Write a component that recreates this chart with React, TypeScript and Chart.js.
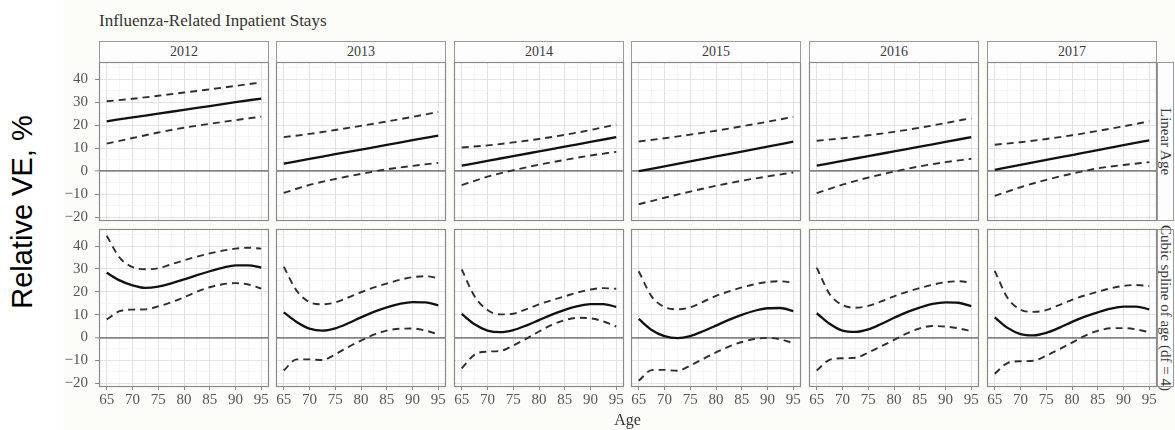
import React, { useEffect, useRef } from 'react';
import { Chart, registerables } from 'chart.js';

Chart.register(...registerables);

// ---------- text ----------
const TITLE = 'Influenza-Related Inpatient Stays';
const Y_LABEL = 'Relative VE, %';
const X_LABEL = 'Age';
const YEARS = ['2012', '2013', '2014', '2015', '2016', '2017'];
const MODELS = ['Linear Age', 'Cubic spline of age (df = 4)'];

// ---------- axes ----------
const AGES_LINEAR = [65, 70, 75, 80, 85, 90, 95];
const AGES_SPLINE = [65, 67.5, 70, 72.5, 75, 77.5, 80, 82.5, 85, 87.5, 90, 92.5, 95];
const X_GRID = [65, 67.5, 70, 72.5, 75, 77.5, 80, 82.5, 85, 87.5, 90, 92.5, 95];
const X_TICK_LABELS = [65, 70, 75, 80, 85, 90, 95];
const Y_GRID = [-20, -15, -10, -5, 0, 5, 10, 15, 20, 25, 30, 35, 40, 45];
const Y_TICK_LABELS = [-20, -10, 0, 10, 20, 30, 40];
const X_MIN = 63.5;
const X_MAX = 96.5;
const Y_MIN = -21.7;
const Y_MAX = 47.5;

// ---------- data: Linear Age (rows = 2012..2017, values at AGES_LINEAR) ----------
const LINEAR_EST = [
  [21.7, 23.4, 25.0, 26.7, 28.3, 30.0, 31.6],
  [3.3, 5.3, 7.4, 9.4, 11.4, 13.5, 15.5],
  [2.4, 4.5, 6.5, 8.6, 10.7, 12.7, 14.8],
  [0.0, 2.1, 4.3, 6.4, 8.5, 10.7, 12.8],
  [2.4, 4.5, 6.5, 8.6, 10.7, 12.7, 14.8],
  [0.6, 2.7, 4.9, 7.0, 9.1, 11.3, 13.4],
];
const LINEAR_HI = [
  [30.4, 31.5, 32.8, 34.2, 35.6, 37.1, 38.6],
  [14.8, 16.2, 17.9, 19.7, 21.6, 23.6, 25.8],
  [10.3, 11.2, 12.5, 14.0, 15.8, 17.9, 20.3],
  [12.9, 14.3, 15.9, 17.6, 19.5, 21.5, 23.6],
  [13.2, 14.3, 15.6, 17.1, 18.9, 20.9, 23.1],
  [11.5, 12.6, 14.0, 15.6, 17.5, 19.5, 21.7],
];
const LINEAR_LO = [
  [12.0, 14.4, 16.8, 18.9, 20.6, 22.2, 23.7],
  [-9.5, -6.0, -3.4, -1.2, 0.8, 2.3, 3.6],
  [-6.1, -2.4, 0.4, 2.8, 4.9, 6.8, 8.4],
  [-14.4, -11.6, -8.9, -6.4, -4.2, -2.3, -0.6],
  [-9.6, -5.9, -2.8, -0.2, 2.1, 3.9, 5.4],
  [-10.8, -7.0, -3.8, -1.1, 1.2, 2.7, 3.9],
];

// ---------- data: Cubic spline (rows = 2012..2017, values at AGES_SPLINE) ----------
const SPLINE_EST = [
  [28.3, 25.0, 22.8, 21.7, 22.3, 23.7, 25.4, 27.3, 29.0, 30.5, 31.6, 31.6, 30.6],
  [11.0, 6.8, 3.9, 3.0, 4.0, 6.2, 8.8, 11.2, 13.2, 14.7, 15.5, 15.4, 14.1],
  [10.3, 5.8, 3.0, 2.3, 3.2, 5.2, 7.6, 10.0, 12.1, 13.7, 14.6, 14.6, 13.4],
  [8.1, 3.3, 0.6, -0.3, 0.6, 2.7, 5.2, 7.7, 9.9, 11.7, 12.8, 12.9, 11.5],
  [10.6, 6.0, 3.0, 2.4, 3.5, 5.9, 8.6, 11.1, 13.1, 14.7, 15.4, 15.2, 13.7],
  [8.8, 4.2, 1.5, 0.9, 2.0, 4.2, 6.8, 9.1, 11.0, 12.6, 13.5, 13.5, 12.3],
];
const SPLINE_HI = [
  [44.5, 35.0, 30.8, 29.9, 30.3, 32.0, 33.8, 35.4, 36.8, 38.0, 38.9, 39.3, 38.9],
  [31.0, 20.5, 15.5, 14.5, 15.3, 17.5, 19.8, 21.9, 23.6, 25.2, 26.4, 26.8, 26.0],
  [29.8, 18.0, 12.0, 10.1, 10.4, 12.3, 14.5, 16.3, 18.0, 19.7, 21.0, 21.6, 21.3],
  [29.0, 18.0, 13.3, 12.3, 13.2, 15.6, 18.2, 20.2, 21.9, 23.3, 24.3, 24.6, 24.0],
  [30.6, 19.0, 14.2, 13.0, 13.8, 15.8, 18.0, 20.0, 21.6, 23.1, 24.2, 24.6, 24.0],
  [29.2, 17.3, 12.2, 11.2, 12.0, 14.2, 16.5, 18.4, 20.0, 21.5, 22.6, 23.0, 22.5],
];
const SPLINE_LO = [
  [7.9, 11.5, 12.2, 12.3, 13.6, 15.4, 17.6, 20.0, 22.0, 23.3, 23.8, 23.2, 21.4],
  [-14.5, -9.6, -9.6, -9.9, -7.4, -4.2, -1.4, 1.2, 3.0, 3.8, 3.9, 3.0, 1.4],
  [-13.5, -7.5, -6.2, -5.9, -3.5, -0.6, 2.6, 5.5, 7.6, 8.6, 8.4, 7.0, 4.8],
  [-19.0, -14.3, -14.2, -14.6, -12.3, -9.4, -6.5, -4.0, -2.0, -0.7, -0.2, -0.8, -2.5],
  [-14.5, -9.8, -9.1, -8.9, -6.6, -3.9, -1.1, 1.8, 4.0, 5.0, 4.8, 4.0, 2.8],
  [-15.9, -11.2, -10.4, -10.2, -8.0, -5.2, -2.3, 0.7, 2.9, 4.0, 4.1, 3.5, 2.3],
];

// ---------- layout ----------
const PANEL_LEFT = [99, 276, 454, 631, 809, 987];
const PANEL_W = 170;
const PANEL_TOP = [62, 229];
const PANEL_H = [159, 158];
const YAXIS_W = 50;
const XAXIS_H = 24;
const PAD = 8;

const SERIF = '"Liberation Serif", "DejaVu Serif", serif';
const BG = '#fcfcf8';

const toPoints = (xs: number[], ys: number[]) => xs.map((x, i) => ({ x, y: ys[i] }));
const fmt = (v: number) => (v < 0 ? '\u2212' + Math.abs(v) : String(v));

const panelPlugin = {
  id: 'panelBox',
  beforeDraw(chart: any) {
    const { ctx, chartArea: a } = chart;
    ctx.save();
    ctx.fillStyle = '#ffffff';
    ctx.fillRect(a.left, a.top, a.right - a.left, a.bottom - a.top);
    ctx.restore();
  },
  afterDraw(chart: any) {
    const { ctx, chartArea: a } = chart;
    ctx.save();
    ctx.strokeStyle = '#8a8a8a';
    ctx.lineWidth = 1.2;
    ctx.strokeRect(a.left + 0.5, a.top + 0.5, a.right - a.left - 1, a.bottom - a.top - 1);
    ctx.restore();
  },
};

const zeroPadding = (s: any) => {
  s.paddingTop = 0;
  s.paddingBottom = 0;
  s.paddingLeft = 0;
  s.paddingRight = 0;
};

function Panel({ row, col }: { row: number; col: number }) {
  const ref = useRef<HTMLCanvasElement>(null);
  const isLeft = col === 0;
  const isBottom = row === 1;
  const leftExtra = isLeft ? YAXIS_W : PAD;
  const bottomExtra = isBottom ? XAXIS_H : PAD;
  const width = PANEL_W + leftExtra + PAD;
  const height = PANEL_H[row] + PAD + bottomExtra;

  useEffect(() => {
    const ages = row === 0 ? AGES_LINEAR : AGES_SPLINE;
    const est = row === 0 ? LINEAR_EST[col] : SPLINE_EST[col];
    const hi = row === 0 ? LINEAR_HI[col] : SPLINE_HI[col];
    const lo = row === 0 ? LINEAR_LO[col] : SPLINE_LO[col];
    const dashed = {
      borderColor: '#2e2e2e',
      borderWidth: 1.9,
      borderDash: [7, 5],
      pointRadius: 0,
      fill: false,
      cubicInterpolationMode: 'monotone' as const,
    };
    const chart = new Chart(ref.current as HTMLCanvasElement, {
      type: 'line',
      data: {
        datasets: [
          { label: 'upper', data: toPoints(ages, hi), ...dashed },
          { label: 'lower', data: toPoints(ages, lo), ...dashed },
          {
            label: 'estimate',
            data: toPoints(ages, est),
            borderColor: '#111111',
            borderWidth: 2.3,
            pointRadius: 0,
            fill: false,
            cubicInterpolationMode: 'monotone' as const,
          },
        ],
      },
      options: {
        responsive: false,
        animation: false,
        devicePixelRatio: 1,
        events: [],
        layout: {
          padding: { left: isLeft ? 0 : PAD, right: PAD, top: PAD, bottom: isBottom ? 0 : PAD },
        },
        plugins: {
          legend: { display: false },
          tooltip: { enabled: false },
          title: { display: false },
        },
        scales: {
          x: {
            type: 'linear',
            min: X_MIN,
            max: X_MAX,
            afterBuildTicks: (s: any) => {
              s.ticks = X_GRID.map((v) => ({ value: v }));
            },
            afterFit: (s: any) => {
              s.height = isBottom ? XAXIS_H : 0;
              zeroPadding(s);
            },
            border: { display: false },
            grid: {
              drawTicks: isBottom,
              tickLength: 3,
              color: (c: any) => (X_TICK_LABELS.includes(c.tick?.value) ? '#e2e2e2' : '#f1f1f1'),
              lineWidth: (c: any) => (X_TICK_LABELS.includes(c.tick?.value) ? 1 : 0.7),
              tickColor: (c: any) => (X_TICK_LABELS.includes(c.tick?.value) ? '#8a8a8a' : 'rgba(0,0,0,0)'),
              tickWidth: 1,
            },
            ticks: {
              display: isBottom,
              autoSkip: false,
              maxRotation: 0,
              padding: 1,
              color: '#555555',
              font: { family: SERIF, size: 15 },
              callback: (v: any) => (X_TICK_LABELS.includes(Number(v)) ? String(v) : ''),
            },
          },
          y: {
            type: 'linear',
            min: Y_MIN,
            max: Y_MAX,
            afterBuildTicks: (s: any) => {
              s.ticks = Y_GRID.map((v) => ({ value: v }));
            },
            afterFit: (s: any) => {
              s.width = isLeft ? YAXIS_W : 0;
              zeroPadding(s);
            },
            border: { display: false },
            grid: {
              drawTicks: isLeft,
              tickLength: 4,
              color: (c: any) => {
                const v = c.tick?.value;
                if (v === 0) return '#858585';
                return Y_TICK_LABELS.includes(v) ? '#e2e2e2' : '#f1f1f1';
              },
              lineWidth: (c: any) => {
                const v = c.tick?.value;
                if (v === 0) return 1.7;
                return Y_TICK_LABELS.includes(v) ? 1 : 0.7;
              },
              tickColor: (c: any) => (Y_TICK_LABELS.includes(c.tick?.value) ? '#8a8a8a' : 'rgba(0,0,0,0)'),
              tickWidth: 1,
            },
            ticks: {
              display: isLeft,
              autoSkip: false,
              padding: 7,
              color: '#555555',
              font: { family: SERIF, size: 15 },
              callback: (v: any) => (Y_TICK_LABELS.includes(Number(v)) ? fmt(Number(v)) : ''),
            },
          },
        },
      },
      plugins: [panelPlugin],
    } as any);
    return () => chart.destroy();
  }, [row, col]);

  return (
    <canvas
      ref={ref}
      width={width}
      height={height}
      style={{
        position: 'absolute',
        left: PANEL_LEFT[col] - leftExtra,
        top: PANEL_TOP[row] - PAD,
        width,
        height,
      }}
    />
  );
}

export default function App() {
  const stripBorder = '1px solid #9a9a9a';
  return (
    <div
      style={{
        position: 'absolute',
        left: 0,
        top: 0,
        width: 1175,
        height: 430,
        overflow: 'hidden',
        background: '#ffffff',
      }}
    >
      <div style={{ position: 'absolute', left: 63, top: 0, width: 1112, height: 430, background: BG }} />
      <div
        style={{
          position: 'absolute',
          left: 99,
          top: 11,
          fontFamily: SERIF,
          fontSize: 17,
          color: '#333333',
          whiteSpace: 'nowrap',
          lineHeight: '20px',
        }}
      >
        {TITLE}
      </div>
      {YEARS.map((y, col) => (
        <div
          key={y}
          style={{
            position: 'absolute',
            left: PANEL_LEFT[col],
            top: 41,
            width: PANEL_W,
            height: 22,
            boxSizing: 'border-box',
            border: stripBorder,
            background: '#fdfdfd',
            fontFamily: SERIF,
            fontSize: 14,
            color: '#3a3a3a',
            display: 'flex',
            alignItems: 'center',
            justifyContent: 'center',
          }}
        >
          {y}
        </div>
      ))}
      {MODELS.map((m, row) => (
        <div
          key={m}
          style={{
            position: 'absolute',
            left: 1157,
            top: PANEL_TOP[row],
            width: 17,
            height: PANEL_H[row],
            boxSizing: 'border-box',
            border: stripBorder,
            background: '#fdfdfd',
            display: 'flex',
            alignItems: 'center',
            justifyContent: 'center',
            overflow: 'visible',
          }}
        >
          <div
            style={{
              writingMode: 'vertical-rl',
              fontFamily: SERIF,
              fontSize: 15,
              color: '#3a3a3a',
              whiteSpace: 'nowrap',
              lineHeight: '15px',
            }}
          >
            {m}
          </div>
        </div>
      ))}
      {[0, 1].map((row) =>
        YEARS.map((y, col) => <Panel key={`${row}-${col}`} row={row} col={col} />)
      )}
      <div
        style={{
          position: 'absolute',
          left: 0,
          width: 1175,
          top: 410,
          textAlign: 'center',
          paddingLeft: 80,
          boxSizing: 'border-box',
          fontFamily: SERIF,
          fontSize: 16,
          color: '#333333',
          lineHeight: '20px',
        }}
      >
        {X_LABEL}
      </div>
      <div
        style={{
          position: 'absolute',
          left: 22,
          top: 212,
          transform: 'translate(-50%, -50%) rotate(-90deg)',
          fontFamily: '"Liberation Sans", Arial, sans-serif',
          fontSize: 29,
          color: '#000000',
          whiteSpace: 'nowrap',
          lineHeight: '32px',
        }}
      >
        {Y_LABEL}
      </div>
    </div>
  );
}
